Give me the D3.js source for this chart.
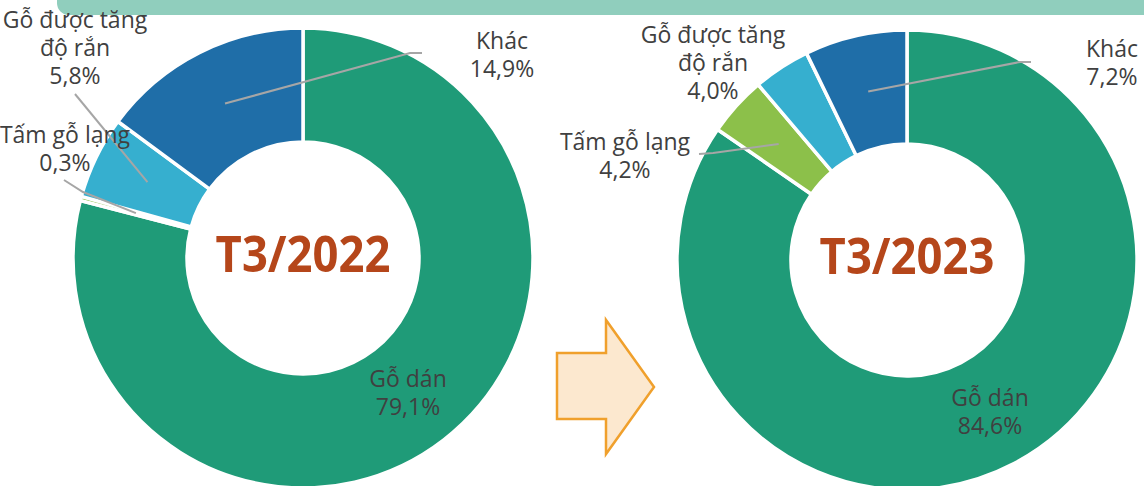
<!DOCTYPE html>
<html>
<head>
<meta charset="utf-8">
<script src="https://cdn.jsdelivr.net/npm/d3@7"></script>
<style>
  body { margin: 0; background: #fff; }
  svg { display: block; }
  .lbl { font-family: "Open Sans", "DejaVu Sans", sans-serif; font-size: 23px; fill: #404040; }
  .center { font-family: "Open Sans", "DejaVu Sans", sans-serif; font-weight: 700; font-size: 51px; fill: #B5461A; }
</style>
</head>
<body>
<svg width="1144" height="486"></svg>
<script>
// data
var categories = ["Gỗ dán", "Tấm gỗ lạng", "Gỗ được tăng độ rắn", "Khác"];
var categoryLines = [["Gỗ dán"], ["Tấm gỗ lạng"], ["Gỗ được tăng", "độ rắn"], ["Khác"]];
var share2022 = [79.1, 0.3, 5.8, 14.9];
var share2023 = [84.6, 4.2, 4.0, 7.2];
var periods = ["T3/2022", "T3/2023"];

var colors = ["#1F9B78", "#8CC04A", "#36AFCF", "#1F6EA8"];

// label placement (text anchor + leader bend points), per chart
var charts = [
    {
        values: share2022, period: periods[0], cx: 303, cy: 258,
        labels: [
            { x: 408, y: 387 },
            { x: 65, y: 143, leader: [[64, 180], [83, 192]] },
            { x: 75, y: 28, leader: [[75, 94]] },
            { x: 502, y: 49, leader: [[422, 53], [410, 53]] }
        ]
    },
    {
        values: share2023, period: periods[1], cx: 907, cy: 260,
        labels: [
            { x: 990, y: 406 },
            { x: 625, y: 150, leader: [[699, 154], [713, 153]] },
            { x: 713, y: 43 },
            { x: 1112, y: 57, leader: [[1031, 62], [1020, 62]] }
        ]
    }
];

var svg = d3.select("svg");

// top band
svg.append("rect")
    .attr("x", 57).attr("y", -20)
    .attr("width", 1120).attr("height", 35)
    .attr("rx", 12)
    .attr("fill", "#90CEBD");

var outerR = 230, innerR = 116;

var pie = d3.pie().sort(null).value(function (d) { return d; });
var arc = d3.arc().innerRadius(innerR).outerRadius(outerR);
var fmt = d3.format(".1f");

charts.forEach(function (c) {
    var g = svg.append("g")
        .attr("transform", "translate(" + c.cx + "," + c.cy + ")");

    var arcs = pie(c.values);

    g.selectAll(".slice")
        .data(arcs)
        .enter().append("path")
        .attr("class", "slice")
        .attr("d", arc)
        .attr("fill", function (d, i) { return colors[i]; })
        .attr("stroke", "#fff")
        .attr("stroke-width", 3.5)
        .attr("stroke-linejoin", "miter");

    // leader lines
    arcs.forEach(function (d, i) {
        var lb = c.labels[i];
        if (!lb.leader) return;
        var p = arc.centroid(d);
        var pts = lb.leader.map(function (q) { return [q[0] - c.cx, q[1] - c.cy]; });
        pts.push(p);
        g.append("path")
            .attr("d", d3.line()(pts))
            .attr("fill", "none")
            .attr("stroke", "#A6A6A6")
            .attr("stroke-width", 2);
    });

    // labels
    arcs.forEach(function (d, i) {
        var lb = c.labels[i];
        var lines = categoryLines[i].concat([fmt(c.values[i]).replace(".", ",") + "%"]);
        var t = svg.append("text")
            .attr("class", "lbl")
            .attr("text-anchor", "middle");
        lines.forEach(function (s, k) {
            t.append("tspan")
                .attr("x", lb.x)
                .attr("y", lb.y + k * 28)
                .text(s);
        });
    });

    // period in the hole, a little narrower than the font draws it
    g.append("text")
        .attr("class", "center")
        .attr("text-anchor", "middle")
        .attr("transform", "translate(0,14) scale(0.89,1)")
        .text(c.period);
});

// arrow between the two charts
var arrow = [[557, 353], [606, 353], [606, 320], [654, 387], [606, 454], [606, 419], [557, 419]];
svg.append("path")
    .attr("d", d3.line()(arrow) + "Z")
    .attr("fill", "#FCE8CF")
    .attr("stroke", "#F0A02C")
    .attr("stroke-width", 2.5)
    .attr("stroke-linejoin", "miter");
</script>
</body>
</html>
